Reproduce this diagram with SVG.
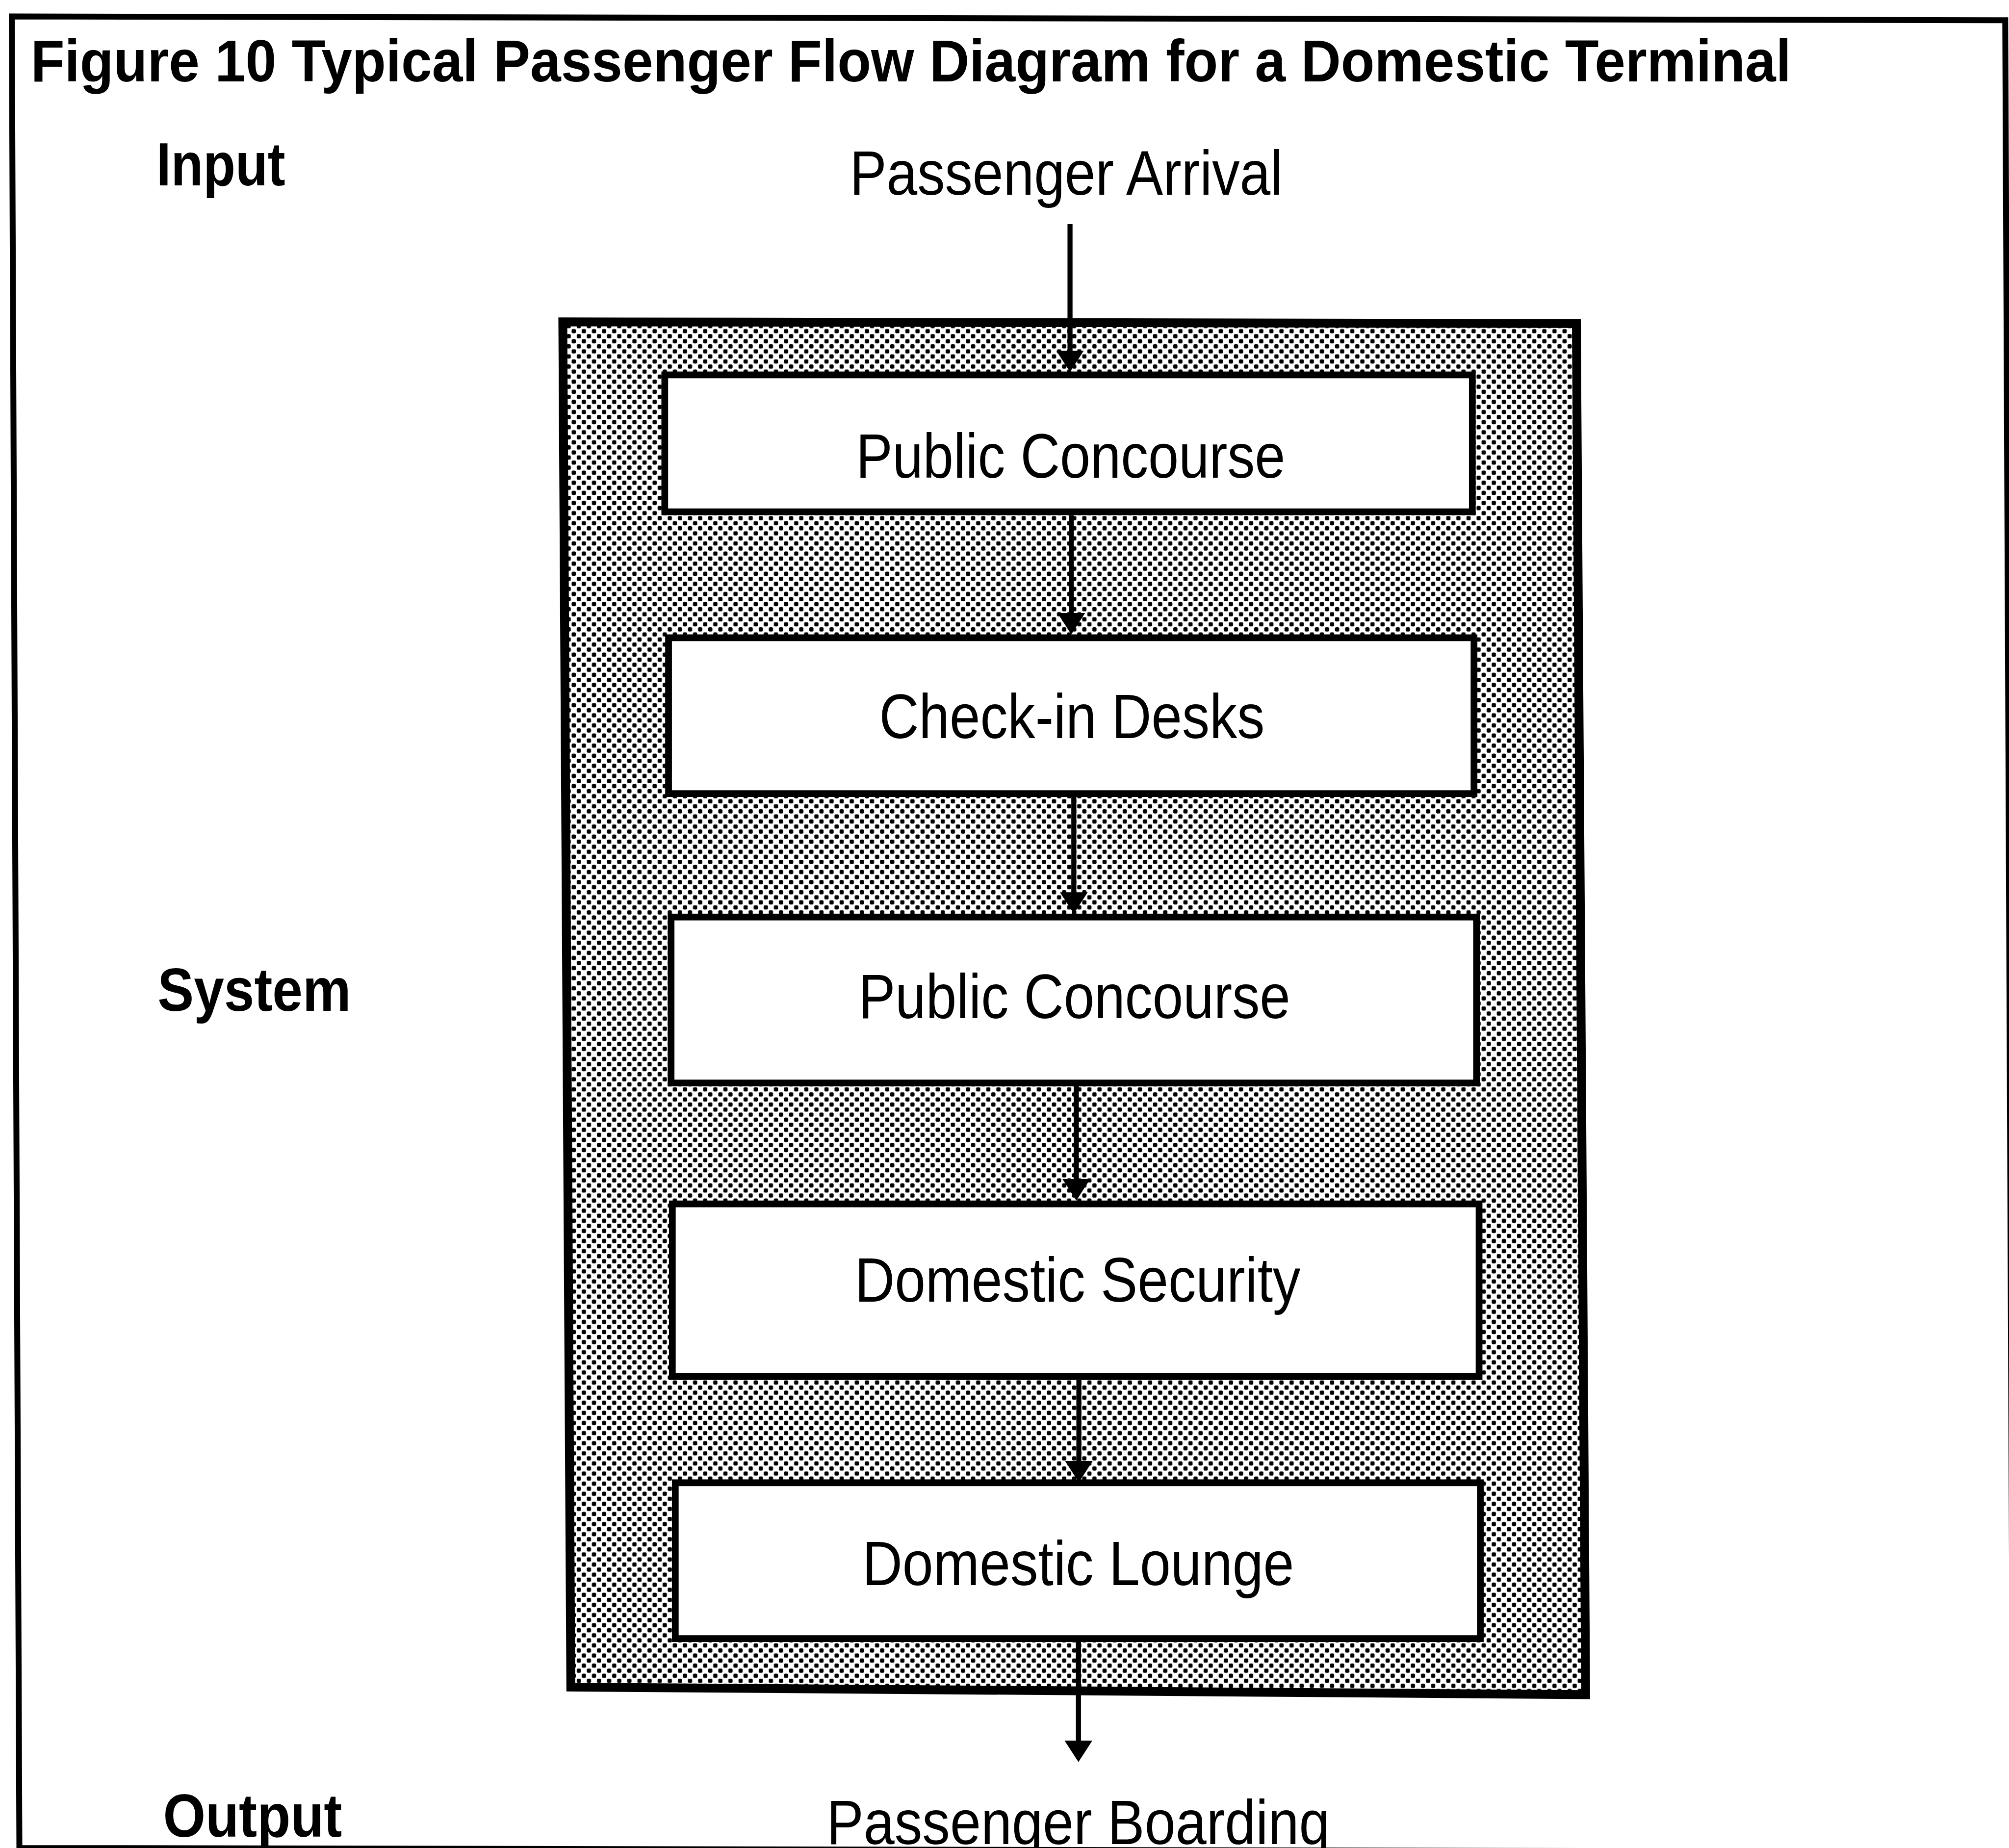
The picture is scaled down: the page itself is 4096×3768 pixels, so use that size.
<svg xmlns="http://www.w3.org/2000/svg" width="4096" height="3768" viewBox="0 0 4096 3768">
  <style>
    .frame { fill: none; stroke: #000; stroke-width: 14; stroke-linejoin: miter; }
    .system { fill: url(#dots); stroke: #000; stroke-width: 21; stroke-linejoin: miter; }
    .box { fill: #fff; stroke: #000; stroke-width: 16; }
    .conn { stroke: #000; stroke-width: 12; fill: none; marker-end: url(#arrowhead); }
    .txt { font-family: "Liberation Sans", Arial, Helvetica, sans-serif; font-size: 148px; fill: #000; }
    .hd { font-family: "Liberation Sans", Arial, Helvetica, sans-serif; font-weight: bold; font-size: 144px; fill: #000; }
    .title { font-size: 140px; }
  </style>
  <defs>
    <!-- halftone dot screen used for the system area -->
    <pattern id="dots" patternUnits="userSpaceOnUse" width="24" height="24">
      <rect width="24" height="24" fill="#fff"/>
      <rect x="1" y="1" width="10" height="10" rx="3" fill="#000"/>
      <rect x="13" y="13" width="10" height="10" rx="3" fill="#000"/>
    </pattern>
    <!-- solid triangular arrowhead, 66 wide and 51 long -->
    <marker id="arrowhead" markerUnits="userSpaceOnUse" viewBox="0 0 51 66" refX="6" refY="33" markerWidth="51" markerHeight="66" orient="auto">
      <path d="M0,0 L51,33 L0,66 Z" fill="#000"/>
    </marker>
  </defs>
  <rect width="4096" height="3768" fill="#fff"/>
  <g transform="scale(0.85889)">
    <!-- outer figure frame -->
    <path id="figure-frame" class="frame" d="M28,39 L4760,48 L4779,4396 L46,4387 Z"/>

    <text id="figure-title" class="hd title" x="73" y="193" textLength="4179" lengthAdjust="spacingAndGlyphs">Figure 10 Typical Passenger Flow Diagram for a Domestic Terminal</text>

    <!-- left-hand stage labels -->
    <g id="stage-labels">
      <text class="hd" x="371" y="440" textLength="306" lengthAdjust="spacingAndGlyphs">Input</text>
      <text class="hd" x="374" y="2400" textLength="459" lengthAdjust="spacingAndGlyphs">System</text>
      <text class="hd" x="387" y="4360" textLength="425" lengthAdjust="spacingAndGlyphs">Output</text>
    </g>

    <!-- shaded system boundary -->
    <path id="system-area" class="system" d="M1336,764 L3742,768 L3764,4023 L1355,4005 Z"/>

    <g id="passenger-arrival">
      <text class="txt" x="2017" y="462" textLength="1028" lengthAdjust="spacingAndGlyphs">Passenger Arrival</text>
    </g>

    <g id="public-concourse-1">
      <rect class="box" x="1578" y="890" width="1917" height="325"/>
      <text class="txt" x="2032" y="1134" textLength="1019" lengthAdjust="spacingAndGlyphs">Public Concourse</text>
    </g>

    <g id="check-in-desks">
      <rect class="box" x="1587" y="1514" width="1912" height="370"/>
      <text class="txt" x="2087" y="1752" textLength="915" lengthAdjust="spacingAndGlyphs">Check-in Desks</text>
    </g>

    <g id="public-concourse-2">
      <rect class="box" x="1593" y="2177" width="1912" height="394"/>
      <text class="txt" x="2038" y="2417" textLength="1025" lengthAdjust="spacingAndGlyphs">Public Concourse</text>
    </g>

    <g id="domestic-security">
      <rect class="box" x="1596" y="2858" width="1915" height="410"/>
      <text class="txt" x="2029" y="3090" textLength="1058" lengthAdjust="spacingAndGlyphs">Domestic Security</text>
    </g>

    <g id="domestic-lounge">
      <rect class="box" x="1603" y="3520" width="1911" height="370"/>
      <text class="txt" x="2047" y="3763" textLength="1025" lengthAdjust="spacingAndGlyphs">Domestic Lounge</text>
    </g>

    <g id="passenger-boarding">
      <text class="txt" x="1962" y="4378" textLength="1195" lengthAdjust="spacingAndGlyphs">Passenger Boarding</text>
    </g>

    <!-- flow connectors -->
    <g id="connectors">
      <line class="conn" x1="2540" y1="532" x2="2540" y2="838"/>
      <line class="conn" x1="2543" y1="1223" x2="2543" y2="1461"/>
      <line class="conn" x1="2549" y1="1892" x2="2549" y2="2124"/>
      <line class="conn" x1="2555" y1="2579" x2="2555" y2="2805"/>
      <line class="conn" x1="2561" y1="3276" x2="2561" y2="3474"/>
      <line class="conn" x1="2560" y1="3898" x2="2560" y2="4138"/>
    </g>
  </g>
</svg>
